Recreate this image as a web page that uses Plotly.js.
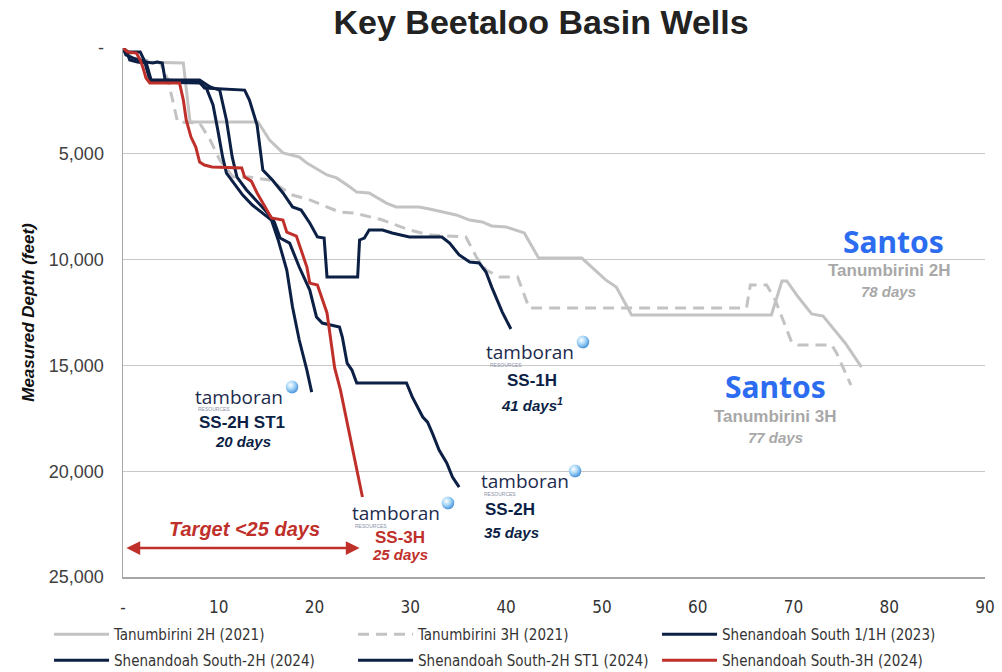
<!DOCTYPE html>
<html>
<head>
<meta charset="utf-8">
<script src="https://cdn.plot.ly/plotly-3.0.1.min.js"></script>
<style>html,body{margin:0;padding:0;background:#fff;}#chart{width:1002px;height:672px;}</style>
</head>
<body>
<div id="chart"></div>
<script>
// ---------- data (days, measured depth in feet) ----------
const seriesNames = [
  'Tanumbirini 2H (2021)', 'Tanumbirini 3H (2021)', 'Shenandoah South 1/1H (2023)',
  'Shenandoah South-2H (2024)', 'Shenandoah South-2H ST1 (2024)', 'Shenandoah South-3H (2024)'
];

const t2hDays  = [0, 0.5, 1.8, 6.3, 7.0, 14.1, 15.3, 16.7, 18.4, 19.2, 21.3, 22.3, 23.7, 24.4, 25.7, 27.5, 28.5, 30.9, 32.0, 33.3, 34.8, 36.2, 37.5, 38.5, 40.0, 41.9, 43.4, 47.9, 49.0, 50.4, 51.5, 53.1, 67.7, 68.8, 69.3, 70.5, 71.9, 73.1, 75.4, 77.1];
const t2hDepth = [0, 330, 660, 710, 3500, 3500, 4350, 4960, 5150, 5440, 6000, 6140, 6570, 6810, 6850, 7330, 7510, 7510, 7610, 7750, 7890, 8130, 8220, 8410, 8460, 8740, 9930, 9930, 10400, 10960, 11300, 12620, 12620, 11010, 11010, 11770, 12570, 12670, 13940, 15080];

const t3hDays  = [0, 1.3, 3.9, 4.7, 5.7, 8.0, 9.1, 10.1, 11.5, 13.2, 15.3, 16.4, 17.7, 19.5, 20.8, 22.6, 24.0, 25.0, 27.1, 28.5, 29.9, 32.0, 35.8, 36.9, 37.9, 39.3, 41.2, 42.4, 65.1, 65.5, 67.2, 68.1, 69.8, 70.5, 74.0, 74.5, 76.0];
const t3hDepth = [0, 470, 710, 1510, 3500, 3550, 4350, 5290, 6100, 6100, 6240, 6570, 6950, 7180, 7420, 7750, 7800, 7890, 8130, 8370, 8600, 8840, 8930, 9880, 10490, 10820, 10820, 12290, 12290, 11200, 11200, 11910, 13890, 14040, 14040, 14410, 15930];

const ss1hDays  = [0, 0.5, 1.8, 2.3, 3.1, 3.6, 4.1, 4.4, 8.0, 8.5, 12.7, 13.2, 14.0, 14.6, 15.6, 16.7, 17.7, 18.6, 19.5, 20.3, 21.0, 21.3, 24.5, 24.7, 25.2, 25.7, 27.1, 28.1, 29.9, 33.3, 34.1, 35.1, 36.2, 37.2, 37.9, 38.5, 39.6, 40.5];
const ss1hDepth = [0, 190, 190, 660, 710, 660, 710, 1510, 1610, 1890, 1990, 2460, 3640, 5770, 6240, 6850, 7510, 7660, 8270, 8930, 8980, 10820, 10820, 9070, 8980, 8600, 8600, 8740, 8930, 8930, 9220, 9780, 10110, 10160, 10590, 11300, 12480, 13280];

const ss2hDays  = [0, 0.4, 0.7, 1.5, 2.3, 2.8, 8.0, 9.1, 10.1, 10.8, 11.4, 11.9, 12.9, 14.0, 15.1, 15.8, 16.4, 17.4, 18.4, 19.5, 20.2, 20.8, 22.6, 22.9, 23.4, 23.9, 24.4, 29.6, 30.2, 31.3, 31.8, 32.3, 33.0, 33.8, 34.4, 35.1];
const ss2hDepth = [0, 190, 570, 660, 710, 1510, 1510, 1840, 1990, 3400, 5150, 6100, 6710, 7280, 7800, 8220, 8980, 9220, 10350, 11440, 12710, 13000, 13190, 13660, 14890, 15220, 15830, 15830, 16490, 17440, 17680, 18200, 19000, 19610, 20280, 20750];

const st1Days  = [0, 0.3, 1.0, 1.8, 2.4, 3.0, 8.0, 8.7, 9.4, 9.9, 10.4, 10.8, 11.5, 12.5, 13.5, 14.6, 15.5, 16.2, 17.1, 17.7, 18.4, 19.2, 19.7];
const st1Depth = [0, 330, 470, 570, 660, 1610, 1650, 1890, 2690, 3880, 5150, 5910, 6330, 6950, 7420, 7800, 8130, 9070, 10490, 12240, 13800, 15220, 16260];

const ss3hDays  = [0, 0.5, 1.4, 1.8, 2.1, 2.4, 2.8, 5.9, 6.3, 6.6, 7.1, 7.6, 8.0, 8.5, 9.3, 12.4, 12.7, 13.4, 14.0, 15.0, 15.5, 16.7, 17.1, 18.1, 19.2, 19.5, 20.3, 21.3, 22.1, 22.7, 25.0];
const ss3hDepth = [0, 190, 240, 570, 950, 1420, 1650, 1650, 2460, 3400, 4210, 4680, 5390, 5530, 5620, 5670, 6100, 6290, 6850, 7660, 8030, 8130, 8700, 8890, 10350, 11110, 11200, 12520, 15120, 16160, 21220];

const yTickVals = [0, 5000, 10000, 15000, 20000, 25000];
const yTickText = ['-', '5,000', '10,000', '15,000', '20,000', '25,000'];
const yGridVals = [5000, 10000, 15000, 20000];
const xTickVals = [0, 10, 20, 30, 40, 50, 60, 70, 80, 90];
const xTickText = ['-', '10', '20', '30', '40', '50', '60', '70', '80', '90'];

// target arrow (days, depth)
const targetStartDay = 0.2, targetEndDay = 24.7, targetDepth = 23630;

// ---------- styles ----------
const NAVY = '#0c1f45';
const RED = '#c0302a';
const GRAY = '#c3c3c3';
const NARROW = '"Liberation Sans Narrow", "Arial Narrow", "DejaVu Sans Condensed", sans-serif';
const ARIAL = '"Liberation Sans", Arial, sans-serif';

function line(name, x, y, color, dash, legendId) {
  return {type: 'scatter', mode: 'lines', name: name, x: x, y: y, legend: legendId,
    line: {color: color, width: 3, dash: dash || 'solid'}, hoverinfo: 'skip'};
}

const traces = [
  line(seriesNames[0], t2hDays, t2hDepth, GRAY, 'solid', 'legend'),
  line(seriesNames[1], t3hDays, t3hDepth, GRAY, '11px,7px', 'legend'),
  line(seriesNames[2], ss1hDays, ss1hDepth, NAVY, 'solid', 'legend'),
  line(seriesNames[3], ss2hDays, ss2hDepth, NAVY, 'solid', 'legend2'),
  line(seriesNames[4], st1Days, st1Depth, NAVY, 'solid', 'legend2'),
  line(seriesNames[5], ss3hDays, ss3hDepth, RED, 'solid', 'legend2')
];

const sphereSvg = "<svg xmlns='http://www.w3.org/2000/svg' width='40' height='40'><defs><radialGradient id='g' cx='38%' cy='35%' r='70%'><stop offset='0' stop-color='#ffffff'/><stop offset='0.45' stop-color='#a9d8f8'/><stop offset='1' stop-color='#3d8ad6'/></radialGradient></defs><circle cx='20' cy='20' r='19' fill='url(#g)'/></svg>";
const sphereSrc = 'data:image/svg+xml;charset=utf-8,' + encodeURIComponent(sphereSvg);
function sphere(x, y) {
  return {source: sphereSrc, xref: 'paper', yref: 'paper', x: x, y: y,
    sizex: 0.0155, sizey: 0.0255, xanchor: 'center', yanchor: 'middle', sizing: 'contain', layer: 'above'};
}

function ann(text, x, y, size, color, opts) {
  return Object.assign({text: text, x: x, y: y, xref: 'paper', yref: 'paper', showarrow: false,
    xanchor: 'center', yanchor: 'middle', font: {family: ARIAL, size: size, color: color}}, opts || {});
}
const TAMB = '#1c2b4d';
function tamboran(cx, cy, lx, ly) {
  return [
    ann('tamboran', cx, cy, 19, TAMB, {borderpad: 0, font: {family: '"Open Sans", "Liberation Sans", sans-serif', size: 19, color: TAMB}}),
    ann('RESOURCES', lx, ly - 0.006, 5, '#8a93a8', {xanchor: 'left', borderpad: 0})
  ];
}

const SANTOS_FONT = {family: '"Noto Sans", Inter, sans-serif', size: 30, color: '#2c6cf0'};
const annotations = [
  ann('<b>Santos</b>', 0.8933, 0.6333, 30, '#2c6cf0', {font: SANTOS_FONT}),
  ann('<b>Tanumbirini 2H</b>', 0.8886, 0.5803, 17, '#a8a8a8'),
  ann('<b><i>78 days</i></b>', 0.8886, 0.5388, 15, '#a8a8a8'),
  ann('<b>Santos</b>', 0.7564, 0.3592, 30, '#2c6cf0', {font: SANTOS_FONT}),
  ann('<b>Tanumbirini 3H</b>', 0.7564, 0.3025, 17, '#a8a8a8'),
  ann('<b><i>77 days</i></b>', 0.7575, 0.2628, 15, '#a8a8a8'),

  ...tamboran(0.4722, 0.4253, 0.4246, 0.4064),
  ann('<b>SS-1H</b>', 0.4745, 0.3724, 17, NAVY),
  ann('<b><i>41 days<sup>1</sup></i></b>', 0.4745, 0.327, 15, NAVY),

  ...tamboran(0.1346, 0.3403, 0.0858, 0.3233),
  ann('<b>SS-2H ST1</b>', 0.138, 0.293, 17, NAVY),
  ann('<b><i>20 days</i></b>', 0.1392, 0.2552, 15, NAVY),

  ...tamboran(0.3167, 0.121, 0.268, 0.102),
  ann('<b>SS-3H</b>', 0.3213, 0.0756, 17, RED),
  ann('<b><i>25 days</i></b>', 0.3213, 0.0416, 15, RED),

  ...tamboran(0.4664, 0.1815, 0.4176, 0.1626),
  ann('<b>SS-2H</b>', 0.4176, 0.1267, 17, NAVY, {xanchor: 'left'}),
  ann('<b><i>35 days</i></b>', 0.4165, 0.0832, 15, NAVY, {xanchor: 'left'}),

  ann('<b><i>Target <25 days</i></b>', 0.1415, 0.0907, 20, RED),
  {x: targetEndDay, y: targetDepth, ax: targetStartDay, ay: targetDepth, xref: 'x', yref: 'y', axref: 'x', ayref: 'y',
   text: '', showarrow: true, arrowhead: 2, startarrowhead: 2, arrowside: 'end+start', arrowsize: 1.1, arrowwidth: 2.5, arrowcolor: RED}
];

const legendBase = {orientation: 'h', xref: 'paper', yref: 'paper', x: -0.0858, xanchor: 'left', yanchor: 'top',
  entrywidth: 234, entrywidthmode: 'pixels', itemwidth: 55, traceorder: 'normal',
  font: {family: NARROW, size: 15, color: '#333333'}, bgcolor: 'rgba(0,0,0,0)'};

const layout = {
  width: 1002, height: 672,
  margin: {l: 123, r: 17, t: 48, b: 95, autoexpand: false},
  paper_bgcolor: '#ffffff', plot_bgcolor: '#ffffff',
  title: {text: '<b>Key Beetaloo Basin Wells</b>', x: 0.54, xanchor: 'center', y: 0.967, yanchor: 'middle', yref: 'container', xref: 'container',
    font: {family: ARIAL, size: 34, color: '#222222'}},
  xaxis: {range: [0, 90], tickmode: 'array', tickvals: xTickVals, ticktext: xTickText,
    showgrid: false, zeroline: false, showline: true, linecolor: '#a6a6a6', linewidth: 1.5, ticks: '',
    ticklabelstandoff: 14, tickfont: {family: NARROW, size: 17, color: '#333333'}},
  yaxis: {range: [25000, 0], tickmode: 'array', tickvals: yTickVals, ticktext: yTickText,
    showgrid: false, zeroline: false, showline: true, linecolor: '#a6a6a6', linewidth: 1.5, ticks: '',
    ticklabelstandoff: 14, tickfont: {family: ARIAL, size: 18, color: '#404040'},
    minor: {tickmode: 'array', tickvals: yGridVals, showgrid: true, gridcolor: '#c8c8c8', gridwidth: 1.2, ticks: ''},
    title: {text: '<b><i>Measured Depth (feet)</i></b>', standoff: 10, font: {family: ARIAL, size: 17, color: '#111111'}}},
  showlegend: true,
  legend: Object.assign({}, legendBase, {y: -0.0775}),
  legend2: Object.assign({}, legendBase, {y: -0.1267}),
  annotations: annotations,
  images: [sphere(0.5336, 0.4442), sphere(0.1961, 0.3592), sphere(0.377, 0.1399), sphere(0.5244, 0.2004)]
};

Plotly.newPlot('chart', traces, layout, {displayModeBar: false, staticPlot: true});
</script>
</body>
</html>
